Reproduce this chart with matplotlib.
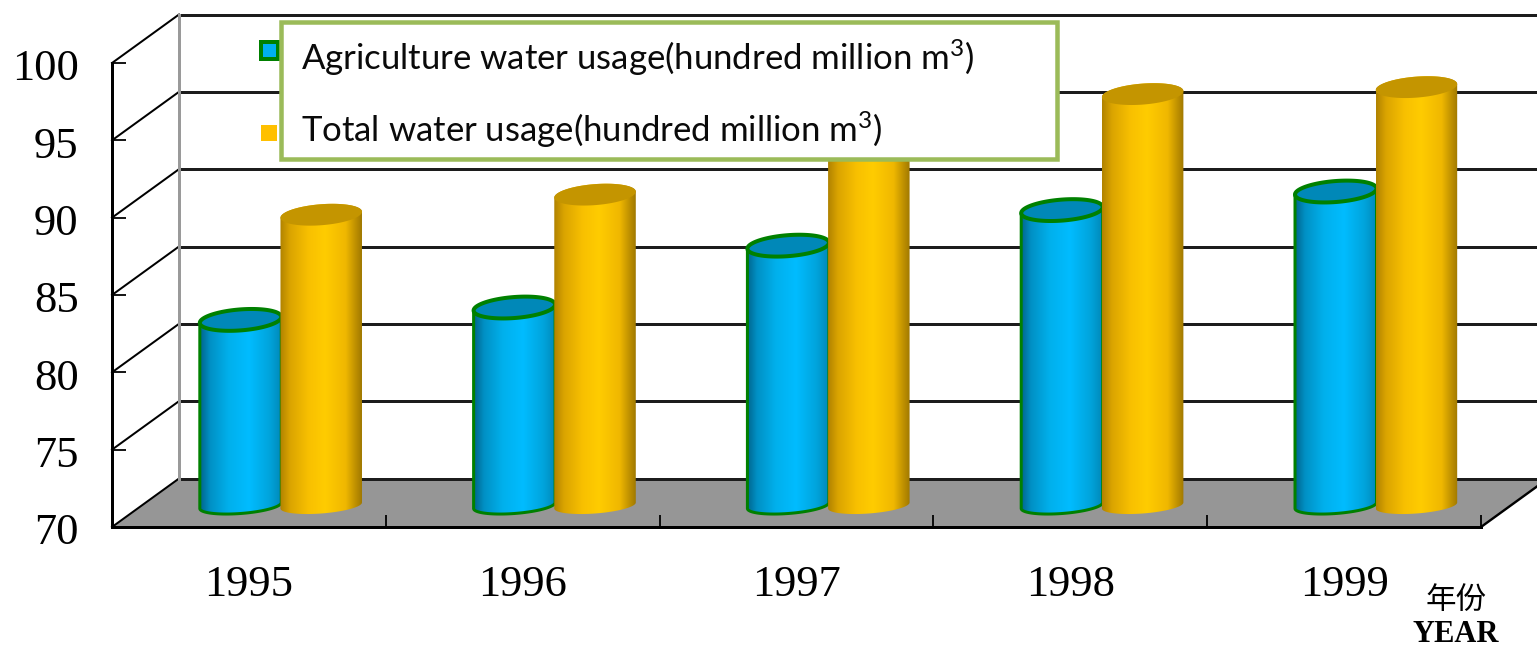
import numpy as np
from matplotlib import pyplot as plt
from matplotlib.colors import LinearSegmentedColormap
from matplotlib.patches import Polygon, Rectangle
from matplotlib.path import Path
from matplotlib.transforms import Affine2D, ScaledTranslation

years = ["1995", "1996", "1997", "1998", "1999"]
agriculture = [82.0, 82.8, 86.8, 89.1, 90.3]
total = [88.8, 90.1, 93.5, 96.6, 97.05]
y_ticks = [70, 75, 80, 85, 90, 95, 100]
legend_agri = "Agriculture water usage(hundred million m$^{3}$)"
legend_total = "Total water usage(hundred million m$^{3}$)"

W, H = 1537, 646
PX_X = 1369 / 5        # pixel je kategorie
PX_Y = 464 / 30        # pixel je einheit
DEPTH_X = 67 / PX_X
DEPTH_Y = 48.5 / PX_Y
LIFT = 21.5 / PX_Y     # saeulen stehen mitten auf dem boden
BAR_W = 81.5 / PX_X
X_RIGHT = (W - 112) / PX_X - 0.5


def lw(px):
    return px * 0.72


blue_cmap = LinearSegmentedColormap.from_list(
    "blue", [(0, "#00648c"), (0.12, "#0090c4"), (0.35, "#00b0ec"), (0.6, "#00bcff"),
             (0.85, "#00a4dc"), (1, "#0088b8")])
gold_cmap = LinearSegmentedColormap.from_list(
    "gold", [(0, "#b08200"), (0.12, "#daa400"), (0.35, "#f8c000"), (0.55, "#ffcc00"),
             (0.8, "#f0b800"), (1, "#a07800")])


def arc(cx, cy, t, minor):
    x = cx + BAR_W / 2 * np.cos(t)
    y = cy + (3 * np.cos(t) + minor * np.sin(t)) / PX_Y
    return np.column_stack([x, y])


def draw_cylinder(ax, cx, value, cmap, top_color, edge, z):
    top = value + LIFT
    bottom = 70 + LIFT
    lower = arc(cx, bottom, np.linspace(np.pi, 2 * np.pi, 60), 8)
    upper = arc(cx, top, np.linspace(0, np.pi, 60), 10.5)
    body = np.vstack([lower, upper])
    im = ax.imshow(np.linspace(0, 1, 256).reshape(1, -1), cmap=cmap, aspect="auto",
                   extent=[cx - BAR_W / 2, cx + BAR_W / 2, bottom - 1, top + 1],
                   zorder=z, interpolation="bilinear")
    im.set_clip_path(Path(np.vstack([body, body[:1]])), transform=ax.transData)
    lid = arc(cx, top, np.linspace(0, 2 * np.pi, 120), 10.5)
    if edge:
        ax.plot(np.r_[upper[-1, 0], lower[:, 0], upper[0, 0]],
                np.r_[upper[-1, 1], lower[:, 1], upper[0, 1]],
                color=edge, lw=lw(3), zorder=z + 0.1, solid_capstyle="round")
    ax.add_patch(Polygon(lid, closed=True, facecolor=top_color,
                         edgecolor=edge if edge else top_color,
                         lw=lw(4) if edge else 0, zorder=z + 0.2))


plt.rcParams["font.family"] = ["Liberation Serif", "DejaVu Serif"]
plt.rcParams["mathtext.fontset"] = "custom"
plt.rcParams["mathtext.rm"] = "Lato"
plt.rcParams["mathtext.default"] = "rm"
fig = plt.figure(figsize=(W / 100, H / 100), dpi=100)
ax = fig.add_axes([112 / W, (H - 527) / H, 1369 / W, 464 / H])
ax.patch.set_visible(False)

# boden und rueckwand
ax.add_patch(Polygon([(-0.5, 70), (-0.5 + DEPTH_X, 70 + DEPTH_Y),
                      (4.5 + DEPTH_X, 70 + DEPTH_Y), (4.5, 70)],
                     closed=True, facecolor="#969696", edgecolor="none", zorder=1, clip_on=False))
for v in y_ticks:
    ax.plot([-0.5, -0.5 + DEPTH_X], [v, v + DEPTH_Y], color="black", lw=lw(2), zorder=2, clip_on=False)
    ax.plot([-0.5 + DEPTH_X, X_RIGHT], [v + DEPTH_Y, v + DEPTH_Y], color="#1c1c1c", lw=lw(3), zorder=2, clip_on=False)
ax.plot([-0.5 + DEPTH_X] * 2, [70 + DEPTH_Y, 100 + DEPTH_Y], color="#9a9a9a", lw=lw(3), zorder=2.5, clip_on=False)
ax.plot([4.5, 4.5 + DEPTH_X], [70, 70 + DEPTH_Y], color="black", lw=lw(2.4), zorder=2, clip_on=False)

for i in range(len(years)):
    mid = i + DEPTH_X / 2 - 0.004
    draw_cylinder(ax, mid - BAR_W / 2, agriculture[i], blue_cmap, "#0088b8", "#008000", 3)
    draw_cylinder(ax, mid + BAR_W / 2 - 0.003, total[i], gold_cmap, "#c49500", None, 4)

ax.set_xlim(-0.5, 4.5)
ax.set_ylim(70, 100)
ax.set_xticks(range(len(years)), years, fontsize=32)
ax.set_xticks(np.arange(-0.5, 5), minor=True)
ax.set_yticks(y_ticks, [str(v) for v in y_ticks], fontsize=32)
ax.tick_params(axis="x", which="major", length=0, pad=27)
ax.tick_params(axis="x", which="minor", direction="in", length=9, width=lw(1.8))
ax.tick_params(axis="y", direction="in", length=10, width=lw(1.8), pad=24)
shift = ScaledTranslation(0, -2 / 100, fig.dpi_scale_trans)
for label in ax.get_yticklabels():
    label.set_transform(label.get_transform() + shift)
for side in ["top", "right"]:
    ax.spines[side].set_visible(False)
for side in ["left", "bottom"]:
    ax.spines[side].set_linewidth(lw(3))
    ax.spines[side].set_zorder(2.6)

# legende in bildpixeln
px = Affine2D().scale(1, -1).translate(0, H)
ax.add_patch(Rectangle((260.5, 41.5), 17, 17, facecolor="#00b0f0", edgecolor="#008000", lw=lw(4),
                       transform=px, zorder=6, clip_on=False))
ax.add_patch(Rectangle((261, 125), 16, 16, facecolor="#ffc000", edgecolor="none",
                       transform=px, zorder=6, clip_on=False))
ax.add_patch(Rectangle((281, 21.5), 776, 137, facecolor="white", edgecolor="#9bbb59", lw=lw(4.5),
                       transform=px, zorder=7, clip_on=False))
fig.text(301 / W, 1 - 70.5 / H, legend_agri, family="Lato", fontsize=25, va="baseline", ha="left", color="#0a0a0a", zorder=8)
fig.text(301 / W, 1 - 141.5 / H, legend_total, family="Lato", fontsize=25, va="baseline", ha="left", color="#0a0a0a", zorder=8)

fig.text(1456 / W, 1 - 600 / H, "年份", family=["Noto Sans CJK SC", "DejaVu Sans"], fontsize=22, ha="center", va="center")
fig.text(1456 / W, 1 - 634 / H, "YEAR", fontsize=22, fontweight="bold", ha="center", va="center")

fig.savefig("out.png", dpi=100)
